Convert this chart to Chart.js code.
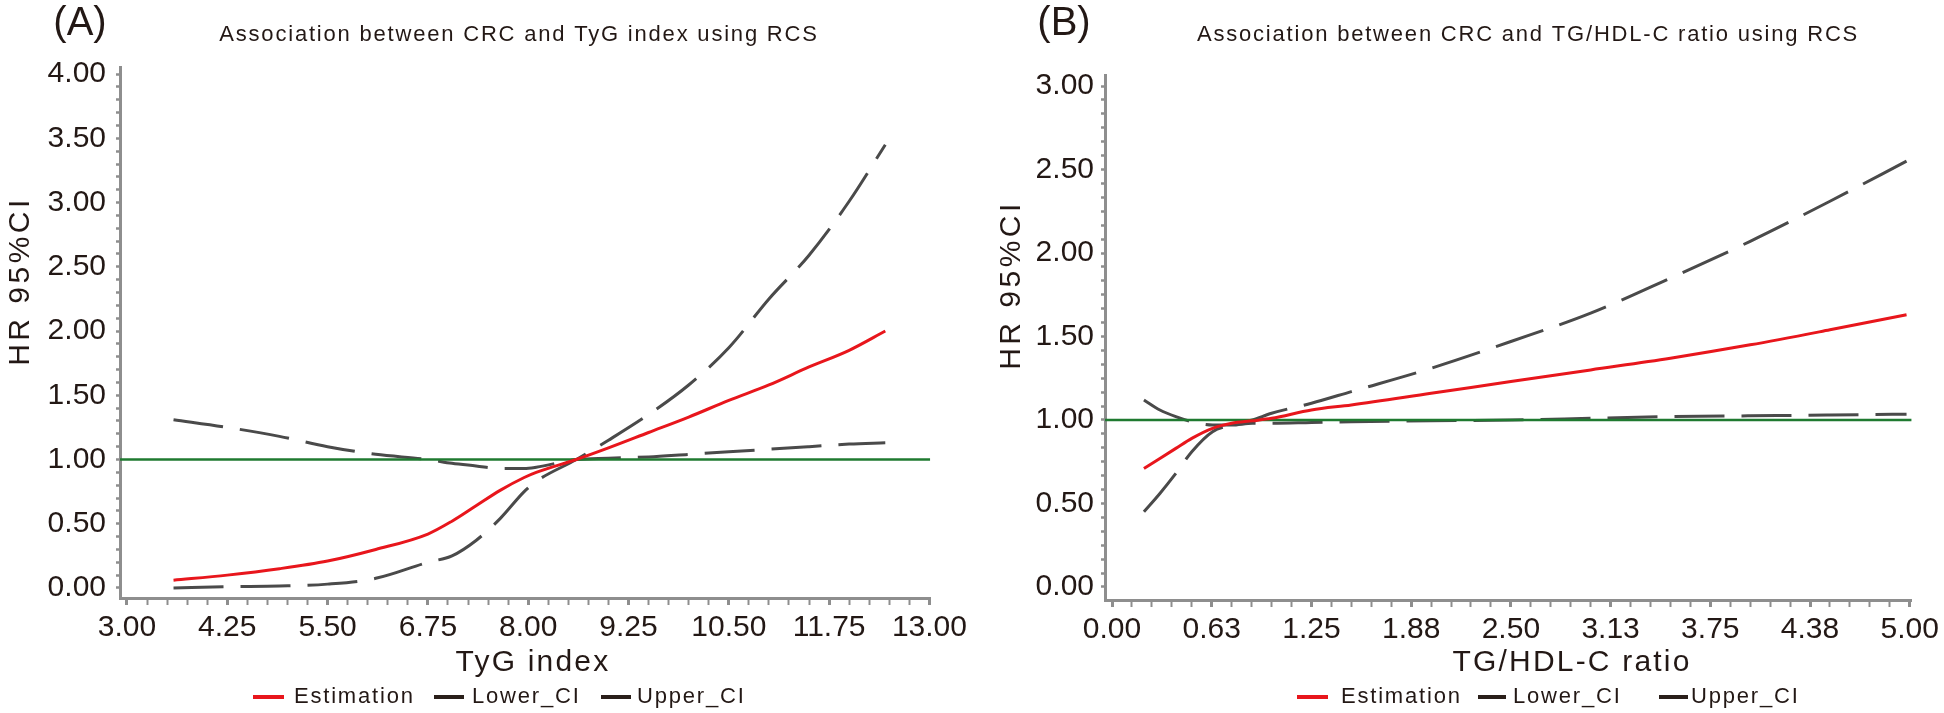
<!DOCTYPE html>
<html>
<head>
<meta charset="utf-8">
<script src="https://cdn.jsdelivr.net/npm/chart.js@4.4.1/dist/chart.umd.min.js"></script>
<style>
  html, body { margin: 0; padding: 0; background: #fff; }
  #wrap { display: flex; width: 1944px; height: 713px; }
  canvas { display: block; }
</style>
</head>
<body>
<div id="wrap">
  <canvas id="chartA" width="972" height="713"></canvas>
  <canvas id="chartB" width="972" height="713"></canvas>
</div>
<script>
// (A) TyG index
const tygX      = [3.58, 4.25, 4.9, 5.5, 6.1, 6.75, 7.05, 7.35, 7.65, 7.95, 8.1, 8.6, 9.0, 9.5, 10.0, 10.5, 11.0, 11.5, 12.0, 12.45];
const tygEst    = [0.06, 0.10, 0.15, 0.21, 0.30, 0.42, 0.52, 0.64, 0.76, 0.86, 0.90, 1.00, 1.09, 1.21, 1.33, 1.46, 1.58, 1.72, 1.85, 2.00];
const tygLower  = [0.00, 0.01, 0.015, 0.03, 0.075, 0.20, 0.25, 0.37, 0.54, 0.75, 0.83, 1.00, 1.15, 1.35, 1.58, 1.87, 2.25, 2.59, 3.01, 3.45];
const tygUpper  = [1.31, 1.25, 1.18, 1.10, 1.04, 1.00, 0.97, 0.95, 0.93, 0.93, 0.94, 1.00, 1.01, 1.02, 1.04, 1.06, 1.08, 1.10, 1.12, 1.13];
const tygXTicks = [3.00, 4.25, 5.50, 6.75, 8.00, 9.25, 10.50, 11.75, 13.00];
const tygYTicks = [0.00, 0.50, 1.00, 1.50, 2.00, 2.50, 3.00, 3.50, 4.00];

// (B) TG/HDL-C ratio
const tghX      = [0.20, 0.30, 0.40, 0.50, 0.63, 0.75, 0.88, 1.00, 1.25, 1.50, 2.00, 2.50, 3.00, 3.50, 4.00, 4.50, 4.98];
const tghEst    = [0.71, 0.77, 0.83, 0.89, 0.95, 0.98, 0.995, 1.01, 1.06, 1.09, 1.16, 1.23, 1.30, 1.37, 1.45, 1.54, 1.63];
const tghLower  = [0.45, 0.56, 0.68, 0.81, 0.93, 0.97, 1.00, 1.04, 1.10, 1.17, 1.31, 1.47, 1.64, 1.85, 2.07, 2.31, 2.55];
const tghUpper  = [1.12, 1.06, 1.02, 0.99, 0.97, 0.97, 0.98, 0.98, 0.985, 0.99, 0.995, 1.00, 1.01, 1.02, 1.025, 1.03, 1.035];
const tghXTicks = [0.00, 0.625, 1.25, 1.875, 2.50, 3.125, 3.75, 4.375, 5.00];
const tghYTicks = [0.00, 0.50, 1.00, 1.50, 2.00, 2.50, 3.00];

const refHR = 1;
const legendNames = ['Estimation', 'Lower_CI', 'Upper_CI'];

const FAM = '"Liberation Sans", Arial, sans-serif';
const TXT = '#231815';
const AXIS = '#8e8e8e';
const RED = '#e8161c';
const GREY = '#4a4a4a';
const GREEN = '#1f7a30';

Chart.defaults.font.family = FAM;

function pts(xs, ys) { return xs.map((x, i) => ({ x: x, y: ys[i] })); }

// majors plus evenly spaced minor ticks
function withMinor(major, n) {
  const out = [];
  for (let i = 0; i < major.length - 1; i++) {
    const step = (major[i + 1] - major[i]) / n;
    for (let j = 0; j < n; j++) out.push(major[i] + j * step);
  }
  out.push(major[major.length - 1]);
  return out;
}
function isMajor(v, major) { return major.some(m => Math.abs(m - v) < 1e-6); }

function put(ctx, text, x, y, font, spacing, align, baseline) {
  ctx.font = font;
  ctx.letterSpacing = spacing + 'px';
  ctx.textAlign = align;
  ctx.textBaseline = baseline || 'alphabetic';
  ctx.fillText(text, x, y);
}

const panelText = {
  id: 'panelText',
  afterDraw(chart, args, o) {
    const ctx = chart.ctx;
    ctx.save();
    ctx.fillStyle = TXT;
    put(ctx, o.letter, o.letterX, 35, '40px ' + FAM, 0, 'center');
    put(ctx, o.title, o.titleX, 41, '22px ' + FAM, 1.8, 'center');
    put(ctx, o.xTitle, o.xTitleX, 671, '30px ' + FAM, 2.2, 'center');
    ctx.save();
    ctx.translate(o.yTitleX, o.yTitleY);
    ctx.rotate(-Math.PI / 2);
    put(ctx, 'HR 95%CI', 0, 0, '30px ' + FAM, 3.5, 'center');
    ctx.restore();
    // legend
    const cols = [RED, '#2a1f1a', '#2a1f1a'];
    o.legend.forEach((it, i) => {
      ctx.fillStyle = cols[i];
      ctx.fillRect(it[0], 695, it[1] - it[0], 4);
      ctx.fillStyle = TXT;
      put(ctx, legendNames[i], it[2], 697, '22px ' + FAM, 1.8, 'left', 'middle');
    });
    ctx.restore();
  }
};

function buildPanel(id, p) {
  const xAll = withMinor(p.xTicks, 5);
  const yAll = withMinor(p.yTicks, p.ySub);
  const line = (label, data, color, width, dash) => ({
    label: label, data: data, borderColor: color, borderWidth: width,
    borderDash: dash || [], pointRadius: 0, fill: false,
    cubicInterpolationMode: 'monotone', borderCapStyle: 'butt'
  });
  new Chart(document.getElementById(id), {
    type: 'line',
    data: {
      datasets: [
        line(legendNames[0], pts(p.x, p.est), RED, 3),
        line('HR = 1', pts([p.xMin, p.xMax], [refHR, refHR]), GREEN, 2.5),
        line(legendNames[1], pts(p.x, p.lower), GREY, 3, [50, 17]),
        line(legendNames[2], pts(p.x, p.upper), GREY, 3, [50, 17])
      ]
    },
    options: {
      responsive: false,
      animation: false,
      devicePixelRatio: 1,
      layout: { padding: { left: 0, top: p.top, right: 972 - p.right, bottom: 0 } },
      scales: {
        x: {
          type: 'linear', min: p.xMin, max: p.xMax,
          afterBuildTicks: s => { s.ticks = xAll.map(v => ({ value: v })); },
          afterFit: s => { s.height = 713 - p.bottom; },
          ticks: {
            autoSkip: false, maxRotation: 0, minRotation: 0, padding: 5,
            color: TXT, font: { size: 30 },
            callback: v => isMajor(v, p.xTicks) ? v.toFixed(2) : ''
          },
          grid: {
            drawOnChartArea: false, drawTicks: true, tickLength: 7,
            tickColor: AXIS,
            tickWidth: c => (c.tick && isMajor(c.tick.value, p.xTicks)) ? 3 : 2
          },
          border: { color: AXIS, width: 3 }
        },
        y: {
          type: 'linear', min: p.yMin, max: p.yMax,
          afterBuildTicks: s => { s.ticks = yAll.map(v => ({ value: v })); },
          afterFit: s => { s.width = p.left; },
          ticks: {
            autoSkip: false, padding: p.yPad, color: TXT, font: { size: 30 },
            callback: v => isMajor(v, p.yTicks) ? v.toFixed(2) : ''
          },
          grid: {
            drawOnChartArea: false, drawTicks: true, tickLength: 4,
            tickColor: AXIS, tickWidth: 2.5
          },
          border: { color: AXIS, width: 3 }
        }
      },
      plugins: {
        legend: { display: false },
        tooltip: { enabled: false },
        panelText: p.text
      }
    },
    plugins: [panelText]
  });
}

buildPanel('chartA', {
  x: tygX, est: tygEst, lower: tygLower, upper: tygUpper,
  xTicks: tygXTicks, yTicks: tygYTicks, ySub: 5,
  xMin: 2.913, xMax: 13.01, yMin: -0.078, yMax: 4.055,
  left: 120, right: 931, top: 67, bottom: 598, yPad: 10,
  text: {
    letter: '(A)', letterX: 80,
    title: 'Association between CRC and TyG index using RCS', titleX: 519,
    xTitle: 'TyG index', xTitleX: 533,
    yTitleX: 29, yTitleY: 281,
    legend: [[253, 284, 294], [434, 464, 472], [601, 631, 637]]
  }
});

buildPanel('chartB', {
  x: tghX, est: tghEst, lower: tghLower, upper: tghUpper,
  xTicks: tghXTicks, yTicks: tghYTicks, ySub: 6,
  xMin: -0.044, xMax: 5.012, yMin: -0.078, yMax: 3.066,
  left: 133, right: 944, top: 75, bottom: 600, yPad: 7,
  text: {
    letter: '(B)', letterX: 92,
    title: 'Association between CRC and TG/HDL-C ratio using RCS', titleX: 556,
    xTitle: 'TG/HDL-C ratio', xTitleX: 600,
    yTitleX: 48, yTitleY: 285,
    legend: [[325, 356, 369], [506, 534, 541], [687, 716, 719]]
  }
});
</script>
</body>
</html>
